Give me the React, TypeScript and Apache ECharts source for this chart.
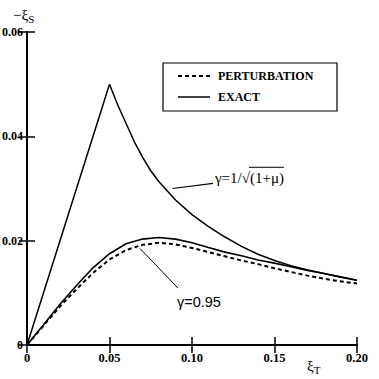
import React, { useEffect, useRef } from "react";
import * as echarts from "echarts";

// ξ_T sample positions
const xUpper = [0, 0.05, 0.055, 0.06, 0.065, 0.07, 0.075, 0.08, 0.09, 0.1, 0.11, 0.12, 0.13, 0.14, 0.15, 0.16, 0.17, 0.18, 0.19, 0.2];
// EXACT, γ = 1/√(1+μ)
const exactUpper = [0, 0.05, 0.046, 0.0425, 0.039, 0.036, 0.0334, 0.0313, 0.0278, 0.025, 0.0227, 0.0207, 0.0189, 0.0174, 0.0162, 0.0152, 0.0144, 0.0137, 0.013, 0.0124];

const xLower = [0, 0.01, 0.02, 0.03, 0.04, 0.05, 0.06, 0.07, 0.08, 0.09, 0.1, 0.11, 0.12, 0.13, 0.14, 0.15, 0.16, 0.17, 0.18, 0.19, 0.2];
// EXACT, γ = 0.95
const exactLower = [0, 0.0039, 0.0078, 0.0114, 0.0148, 0.0175, 0.0194, 0.0203, 0.0206, 0.0203, 0.0196, 0.0187, 0.0178, 0.0171, 0.0163, 0.0157, 0.015, 0.0143, 0.0137, 0.0131, 0.0124];
// PERTURBATION, γ = 0.95
const perturbation = [0, 0.0037, 0.0074, 0.0107, 0.0138, 0.0164, 0.0182, 0.0192, 0.0196, 0.0193, 0.0186, 0.0178, 0.017, 0.0162, 0.0155, 0.0147, 0.014, 0.0133, 0.0127, 0.0122, 0.0118];

const legendNames = ["PERTURBATION", "EXACT"];

const annUpper = { from: [0.0882, 0.0300], to: [0.1127, 0.0310], head: "γ=1/√", radicand: "(1+μ)" };
const annLower = { from: [0.0685, 0.0185], to: [0.0915, 0.0109], text: "γ=0.95" };

const SERIF = "'Times New Roman', 'Liberation Serif', serif";
const SANS = "'Liberation Sans', Arial, sans-serif";

function measure(text: string, font: string): number {
  const ctx = document.createElement("canvas").getContext("2d")!;
  ctx.font = font;
  return ctx.measureText(text).width;
}

export default function App() {
  const ref = useRef<HTMLDivElement>(null);
  useEffect(() => {
    const chart = echarts.init(ref.current!, null, { renderer: "svg" });
    const fmt = (v: number) => (v === 0 ? "0" : v.toFixed(2));
    const axisCommon = {
      type: "value" as const,
      axisLine: { show: true, lineStyle: { color: "#000", width: 2 } },
      axisTick: { show: true, inside: true, length: 8, lineStyle: { color: "#000", width: 1.5 } },
      splitLine: { show: false },
    };
    const labelStyle = { color: "#000", fontFamily: SERIF, fontWeight: "bold" as const, fontSize: 12 };
    chart.setOption({
      animation: false,
      backgroundColor: "#fff",
      grid: { left: 27, right: 22, top: 32, bottom: 34, containLabel: false, outerBoundsMode: "none" },
      xAxis: [
        { ...axisCommon, position: "bottom", min: 0, max: 0.2, interval: 0.05, axisLabel: { ...labelStyle, fontSize: 12.5, formatter: fmt, margin: 6 } },
        { ...axisCommon, position: "top", min: 0, max: 0.2, interval: 0.05, axisLabel: { show: false } },
      ],
      yAxis: [
        { ...axisCommon, position: "left", min: 0, max: 0.06, interval: 0.02, axisLabel: { ...labelStyle, formatter: fmt, margin: 4 } },
        { ...axisCommon, position: "right", min: 0, max: 0.06, interval: 0.02, axisLabel: { show: false } },
      ],
      series: [
        {
          name: legendNames[0],
          type: "line",
          symbol: "none",
          data: xLower.map((x, i) => [x, perturbation[i]]),
          lineStyle: { color: "#000", width: 2, type: [4, 3] },
        },
        {
          name: legendNames[1],
          type: "line",
          symbol: "none",
          data: xUpper.map((x, i) => [x, exactUpper[i]]),
          lineStyle: { color: "#000", width: 1.5 },
        },
        {
          name: legendNames[1],
          type: "line",
          symbol: "none",
          data: xLower.map((x, i) => [x, exactLower[i]]),
          lineStyle: { color: "#000", width: 1.6 },
        },
      ],
    });

    const px = (p: number[]) => chart.convertToPixel({ gridIndex: 0 }, p) as number[];
    const u0 = px(annUpper.from), u1 = px(annUpper.to);
    const l0 = px(annLower.from), l1 = px(annLower.to);
    const annFont = `15px ${SERIF}`;
    const headW = measure(annUpper.head, annFont);
    const radW = measure(annUpper.radicand, annFont);
    const tx = u1[0] + 2, ty = u1[1] - 5;
    const legFont = `bold 12px ${SERIF}`;
    chart.setOption({
      graphic: [
        // legend
        { type: "rect", shape: { x: 163, y: 63, width: 174, height: 48 }, style: { fill: "#fff", stroke: "#000", lineWidth: 1.2 } },
        { type: "line", shape: { x1: 178, y1: 76, x2: 210, y2: 76 }, style: { stroke: "#000", lineWidth: 2, lineDash: [4, 3] } },
        { type: "text", x: 218, y: 76, style: { text: legendNames[0], font: legFont, fill: "#000", textVerticalAlign: "middle" } },
        { type: "line", shape: { x1: 178, y1: 97, x2: 210, y2: 97 }, style: { stroke: "#000", lineWidth: 1.5 } },
        { type: "text", x: 218, y: 97, style: { text: legendNames[1], font: legFont, fill: "#000", textVerticalAlign: "middle" } },
        // annotations
        { type: "line", shape: { x1: u0[0], y1: u0[1], x2: u1[0], y2: u1[1] }, style: { stroke: "#000", lineWidth: 1.2 } },
        { type: "text", x: tx, y: ty, style: { text: annUpper.head, font: annFont, fill: "#000", textVerticalAlign: "middle" } },
        { type: "text", x: tx + headW, y: ty, style: { text: annUpper.radicand, font: annFont, fill: "#000", textVerticalAlign: "middle" } },
        { type: "line", shape: { x1: tx + headW - 1, y1: ty - 11, x2: tx + headW + radW, y2: ty - 11 }, style: { stroke: "#000", lineWidth: 1 } },
        { type: "line", shape: { x1: l0[0], y1: l0[1], x2: l1[0], y2: l1[1] }, style: { stroke: "#000", lineWidth: 1 } },
        { type: "text", x: l1[0] - 1, y: l1[1] + 14, style: { text: annLower.text, font: `14.5px ${SANS}`, fill: "#000", textVerticalAlign: "middle" } },
        // axis names
        {
          type: "text",
          x: 13,
          y: 5,
          style: {
            text: "{a|−ξ}{s|S}",
            rich: {
              a: { fontFamily: SERIF, fontSize: 15, color: "#000" },
              s: { fontFamily: SERIF, fontSize: 11, color: "#000", padding: [8, 0, 0, 0] },
            },
          },
        },
        {
          type: "text",
          x: 307,
          y: 356,
          style: {
            text: "{a|ξ}{s|T}",
            rich: {
              a: { fontFamily: SERIF, fontSize: 15, color: "#000" },
              s: { fontFamily: SERIF, fontSize: 11, color: "#000", padding: [8, 0, 0, 0] },
            },
          },
        },
      ],
    });
    return () => chart.dispose();
  }, []);
  return <div ref={ref} style={{ width: 379, height: 379, position: "absolute", left: 0, top: 0 }} />;
}
